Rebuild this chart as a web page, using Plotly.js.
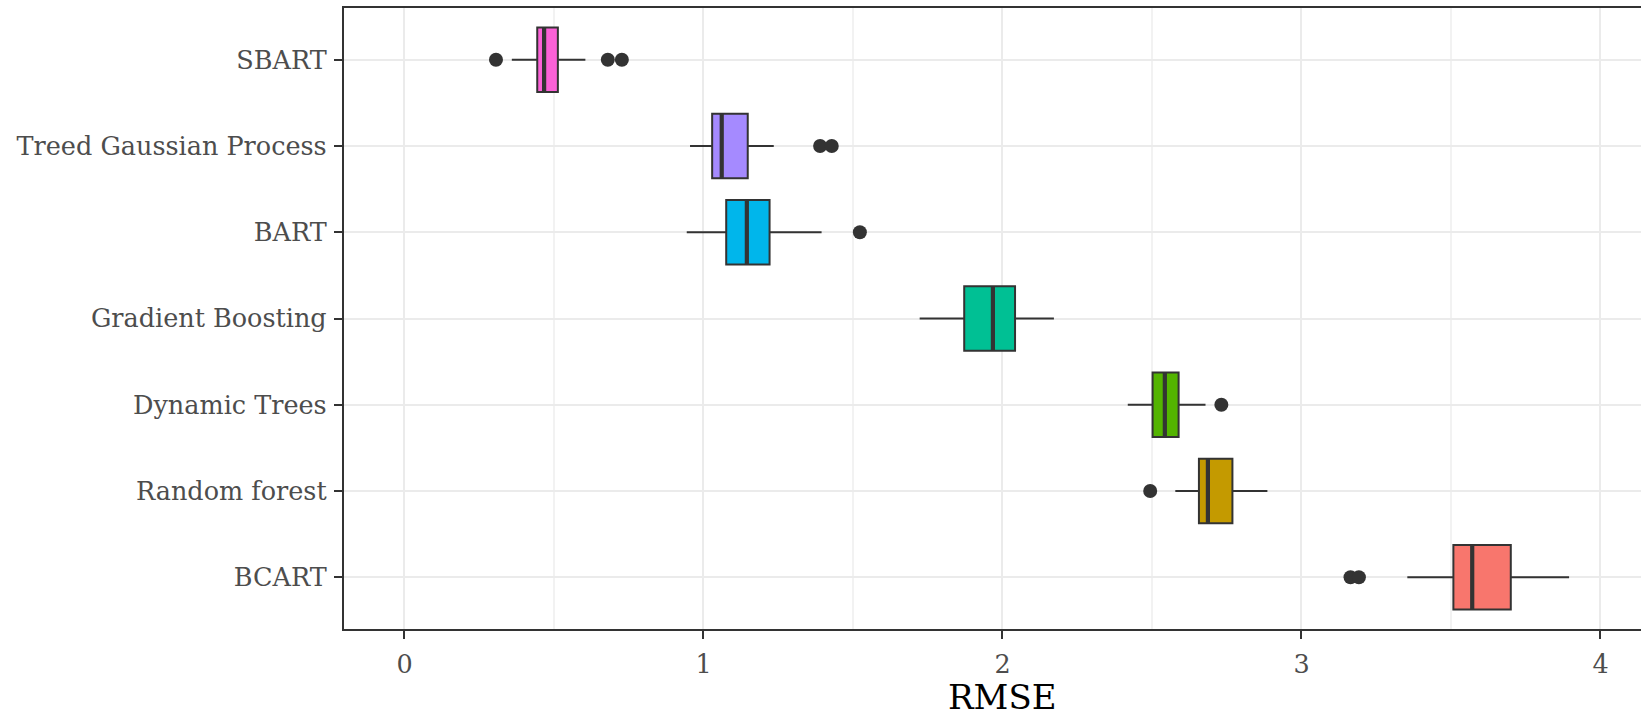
<!DOCTYPE html>
<html>
<head>
<meta charset="utf-8">
<script src="https://cdn.plot.ly/plotly-3.0.1.min.js"></script>
<style>
  html, body { margin: 0; padding: 0; background: #ffffff; }
  #chart { width: 1641px; height: 717px; }
</style>
</head>
<body>
<div id="chart"></div>
<script>
// ---- data ----
const categories   = ['BCART', 'Random forest', 'Dynamic Trees', 'Gradient Boosting', 'BART', 'Treed Gaussian Process', 'SBART'];
const lowerWhisker = [3.354, 2.578, 2.419, 1.723, 0.944, 0.955, 0.359];
const q1Values     = [3.508, 2.657, 2.502, 1.872, 1.076, 1.029, 0.444];
const medianValues = [3.571, 2.687, 2.543, 1.968, 1.145, 1.061, 0.467];
const q3Values     = [3.700, 2.769, 2.589, 2.042, 1.221, 1.148, 0.513];
const upperWhisker = [3.895, 2.886, 2.679, 2.172, 1.395, 1.235, 0.605];
const outlierValues = [
  [3.164, 3.192],
  [2.494],
  [2.732],
  [],
  [1.523],
  [1.390, 1.429],
  [0.306, 0.680, 0.727]
];
const xTickValues = [0, 1, 2, 3, 4];
const xTickLabels = ['0', '1', '2', '3', '4'];

// ---- styles ----
const fillColors = ['#F8766D', '#C49A00', '#53B400', '#00C094', '#00B6EB', '#A58AFF', '#FB61D7'];
const ink = '#333333';
const boxWidth = 0.75;

const traces = [];
categories.forEach((cat, i) => {
  traces.push({
    type: 'box',
    orientation: 'h',
    name: cat,
    y: [i],
    q1: [q1Values[i]],
    median: [medianValues[i]],
    q3: [q3Values[i]],
    lowerfence: [lowerWhisker[i]],
    upperfence: [upperWhisker[i]],
    width: boxWidth,
    fillcolor: fillColors[i],
    line: { color: ink, width: 2 },
    whiskerwidth: 0,
    boxpoints: false,
    showlegend: false,
    hoverinfo: 'x'
  });
});

// thick median bars (ggplot draws them heavier than the outline)
const medX = [], medY = [];
categories.forEach((cat, i) => {
  medX.push(medianValues[i], medianValues[i], null);
  medY.push(i - boxWidth / 2, i + boxWidth / 2, null);
});
traces.push({
  type: 'scatter', mode: 'lines', x: medX, y: medY,
  line: { color: ink, width: 4.2 }, showlegend: false, hoverinfo: 'skip'
});

// outliers
const outX = [], outY = [];
categories.forEach((cat, i) => {
  outlierValues[i].forEach(v => { outX.push(v); outY.push(i); });
});
traces.push({
  type: 'scatter', mode: 'markers', x: outX, y: outY,
  marker: { color: ink, size: 14 }, showlegend: false, hoverinfo: 'x'
});

const tickFont = { family: 'DejaVu Serif', size: 25.5, color: '#4D4D4D' };

const layout = {
  width: 1641,
  height: 717,
  margin: { l: 344, r: 0, t: 8, b: 88, pad: 0 },
  paper_bgcolor: '#ffffff',
  plot_bgcolor: '#ffffff',
  showlegend: false,
  xaxis: {
    range: [-0.2023, 4.1355],
    tickmode: 'array',
    tickvals: xTickValues,
    ticktext: xTickLabels,
    ticks: 'outside',
    ticklen: 8,
    tickwidth: 2,
    tickcolor: ink,
    tickfont: tickFont,
    ticklabelstandoff: 3,
    showgrid: true,
    gridcolor: '#EBEBEB',
    gridwidth: 2,
    minor: { dtick: 0.5, tick0: 0, showgrid: true, gridcolor: '#F2F2F2', gridwidth: 1.3, ticks: '' },
    zeroline: false,
    showline: true,
    mirror: true,
    linecolor: ink,
    linewidth: 2.2
  },
  yaxis: {
    range: [-0.6, 6.6],
    tickmode: 'array',
    tickvals: categories.map((c, i) => i),
    ticktext: categories,
    ticks: 'outside',
    ticklen: 8,
    tickwidth: 2,
    tickcolor: ink,
    tickfont: tickFont,
    ticklabelstandoff: 2,
    showgrid: true,
    gridcolor: '#EBEBEB',
    gridwidth: 2,
    zeroline: false,
    showline: true,
    mirror: false,
    linecolor: ink,
    linewidth: 2.2
  },
  annotations: [{
    text: 'RMSE',
    xref: 'paper', yref: 'paper',
    x: (1002 - 344) / 1297, y: (629 - 697) / 621,
    xanchor: 'center', yanchor: 'middle',
    showarrow: false,
    font: { family: 'DejaVu Serif', size: 34, color: '#000000' }
  }]
};

Plotly.newPlot('chart', traces, layout, { displayModeBar: false, staticPlot: true });
</script>
</body>
</html>
